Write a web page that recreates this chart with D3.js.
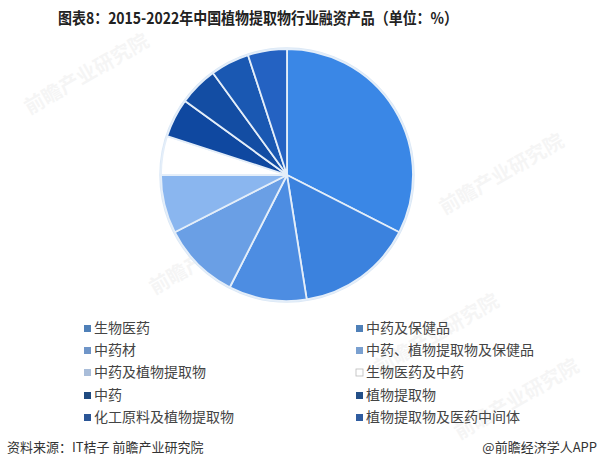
<!DOCTYPE html>
<html><head><meta charset="utf-8">
<script src="https://cdn.jsdelivr.net/npm/d3@7"></script>
<style>body{margin:0;background:#fff;}svg{display:block;font-family:"Noto Sans CJK SC","Noto Sans",sans-serif;}</style>
</head><body>
<svg id="c" width="600" height="468"></svg>
<script>
const categories = ["生物医药","中药及保健品","中药材","中药、植物提取物及保健品","中药及植物提取物","生物医药及中药","中药","植物提取物","化工原料及植物提取物","植物提取物及医药中间体"];
const values = [32.5,15,10,10,7.5,5,5,5,5,5];
const colors = ["#3a87e6","#3b82de","#4d8de2","#6a9fe5","#8ab6ef","#ffffff","#0f48a0","#134da3","#1a58b2","#2462c2"];
const markerColors = ["#4f80b8","#4f80b8","#6f95c8","#7aa0d0","#a9bdd9","#ffffff","#1f4a80","#234f88","#2a5596","#2f5ca0"];

const svg = d3.select("#c");
svg.append("text").attr("x",58).attr("y",24)
  .attr("font-size",16).attr("font-weight","bold").attr("fill","#222")
  .attr("textLength",400).attr("lengthAdjust","spacingAndGlyphs")
  .text("图表8：2015-2022年中国植物提取物行业融资产品（单位：%）");

// faint watermarks
const wm = [[90,80],[505,180],[215,260],[440,340],[520,405]];
wm.forEach(([x,y])=>{
  svg.append("text").attr("x",x).attr("y",y).attr("text-anchor","middle")
    .attr("font-size",20).attr("font-weight","bold").attr("fill","#000").attr("opacity",0.035)
    .attr("transform",`rotate(-30,${x},${y})`).text("前瞻产业研究院");
});

const cx = 287, cy = 175, r = 126;
const pie = d3.pie().sort(null).value(d=>d)(values);
const arc = d3.arc().innerRadius(0).outerRadius(r);
const g = svg.append("g").attr("transform",`translate(${cx},${cy})`);
g.append("circle").attr("r",r+1).attr("fill","none").attr("stroke","#dbe8f6").attr("stroke-width",1.5);
g.selectAll("path").data(pie).join("path")
  .attr("d",arc).attr("fill",(d,i)=>colors[i])
  .attr("stroke","#e4eef9").attr("stroke-width",1.8).attr("stroke-linejoin","round");

const leg = svg.append("g");
const colX = [84,356], rowY = [329,351,373,396,418];
categories.forEach((c,i)=>{
  const x = colX[i%2], y = rowY[Math.floor(i/2)];
  leg.append("rect").attr("x",x).attr("y",y-4).attr("width",7).attr("height",7)
    .attr("fill",markerColors[i]).attr("stroke", i===5?"#bbb":"none").attr("stroke-width",0.8);
  leg.append("text").attr("x",x+10).attr("y",y).attr("dominant-baseline","middle")
    .attr("font-size",14).attr("fill","#444").text(c);
});

svg.append("text").attr("x",7).attr("y",448).attr("dominant-baseline","middle")
  .attr("font-size",13).attr("fill","#333").text("资料来源：IT桔子 前瞻产业研究院");
svg.append("text").attr("x",597).attr("y",448).attr("dominant-baseline","middle").attr("text-anchor","end")
  .attr("font-size",13).attr("fill","#333").text("@前瞻经济学人APP");
</script>
</body></html>
